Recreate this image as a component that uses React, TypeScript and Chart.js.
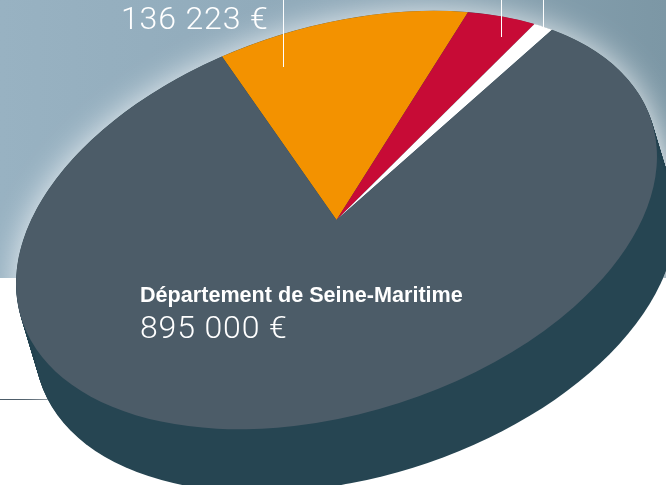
import React, { useEffect, useRef } from "react";
import { Chart, registerables } from "chart.js";

Chart.register(...registerables);

const categories = ["", "", "", "Département de Seine-Maritime"];
const sliceValues = [136223, 42000, 12400, 895000];
const sliceColors = ["#f39200", "#c70b36", "#ffffff", "#4c5c68"];
const amountLabels = ["136 223 €", "895 000 €"];
const TILT = (-17.3 * Math.PI) / 180;
const AXIS_A = 330.2;
const AXIS_B = 193.5;
const CX = 336.5;
const CY = 220;
const DEPTH_X = 19;
const DEPTH_Y = 63;

const pie3d = {
  id: "pie3d",
  beforeDraw(chart: any) {
    const { ctx, width } = chart;
    ctx.save();
    ctx.fillStyle = "#ffffff";
    ctx.fillRect(0, 0, chart.width, chart.height);
    const g = ctx.createLinearGradient(0, 0, width, 0);
    g.addColorStop(0, "#98b2c2");
    g.addColorStop(0.5, "#8fa9b9");
    g.addColorStop(1, "#7c97a5");
    ctx.fillStyle = g;
    ctx.fillRect(0, 0, width, 278);
    ctx.fillStyle = "#4c5c68";
    ctx.fillRect(0, 399, 48, 1);
    ctx.restore();
  },
  beforeDatasetsDraw(chart: any) {
    const { ctx } = chart;
    const ell = (x: number, y: number) => {
      ctx.beginPath();
      ctx.ellipse(x, y, AXIS_A, AXIS_B, TILT, 0, Math.PI * 2);
      ctx.fill();
    };
    ctx.save();
    ctx.fillStyle = "#ffffff";
    ctx.shadowColor = "rgba(255,255,255,0.8)";
    ctx.shadowBlur = 32;
    ell(CX, CY);
    ell(CX + DEPTH_X, CY + DEPTH_Y);
    ctx.shadowBlur = 0;
    ctx.shadowColor = "transparent";
    ctx.fillStyle = "#264552";
    for (let i = 0; i <= DEPTH_Y; i++) {
      ell(CX + (DEPTH_X * i) / DEPTH_Y, CY + i);
    }
    ctx.restore();
    const arc = chart.getDatasetMeta(0).data[0];
    const r = arc.outerRadius;
    ctx.save();
    ctx.translate(CX, CY);
    ctx.rotate(TILT);
    ctx.scale(AXIS_A / r, AXIS_B / r);
    ctx.translate(-arc.x, -arc.y);
  },
  afterDatasetsDraw(chart: any) {
    const { ctx } = chart;
    ctx.restore();
    ctx.save();
    ctx.fillStyle = "#ffffff";
    ctx.fillRect(283, 0, 1, 67);
    ctx.fillRect(501, 0, 1, 37);
    ctx.fillRect(543, 0, 1, 28);
    ctx.textBaseline = "alphabetic";
    ctx.textAlign = "left";
    ctx.font = "300 32px Roboto";
    (ctx as any).letterSpacing = "0.85px";
    ctx.fillText(amountLabels[0], 121, 29);
    ctx.fillText(amountLabels[1], 140, 338);
    (ctx as any).letterSpacing = "0px";
    ctx.font = "bold 21.6px 'Liberation Sans'";
    ctx.fillText(categories[3], 140, 302);
    ctx.restore();
  },
};

export default function App() {
  const ref = useRef<HTMLCanvasElement>(null);
  useEffect(() => {
    const chart = new Chart(ref.current as HTMLCanvasElement, {
      type: "pie",
      data: {
        labels: categories,
        datasets: [
          {
            data: sliceValues,
            backgroundColor: sliceColors,
            borderWidth: 0,
            clip: false,
          } as any,
        ],
      },
      options: {
        animation: false,
        responsive: false,
        rotation: -10.6,
        layout: { padding: 0 },
        plugins: { legend: { display: false }, tooltip: { enabled: false } },
      },
      plugins: [pie3d],
    });
    return () => chart.destroy();
  }, []);
  return (
    <div style={{ position: "absolute", left: 0, top: 0, width: 666, height: 485, overflow: "hidden" }}>
      <canvas ref={ref} width={666} height={485} style={{ display: "block" }} />
    </div>
  );
}
